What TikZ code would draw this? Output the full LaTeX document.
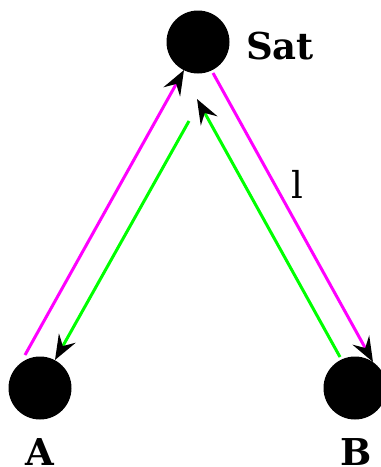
\documentclass[tikz,border=0pt]{standalone}
\usepackage{fontspec}
\setmainfont{DejaVu Serif}
\usetikzlibrary{arrows.meta}
\definecolor{mag}{RGB}{255,0,255}
\definecolor{grn}{RGB}{0,255,0}
\begin{document}
\begin{tikzpicture}[x=1pt,y=-1pt,
  dot/.style={circle,fill=black,inner sep=0pt,minimum size=63pt},
  lbl/.style={font=\bfseries\fontsize{37}{44}\selectfont,inner sep=0pt,anchor=base},
  link/.style={line width=3pt,-{Stealth[length=25pt,width=19pt,inset=9pt,black]}}]
\useasboundingbox (0,0) rectangle (381,467);
\clip (0,0) rectangle (381,467);
\node[dot] (sat) at (198,42) {};
\node[dot] (a) at (40,388) {};
\node[dot] (b) at (355,388) {};
\node[lbl] (satl) at (280,59) {Sat};
\node[lbl] (al) at (40,465) {A};
\node[lbl] (bl) at (356,465) {B};
\node[font=\fontsize{37}{44}\selectfont,inner sep=0pt,anchor=base] (l) at (297,198) {l};
\coordinate (m1s) at (25,355);
\coordinate (m1e) at (184,70);
\coordinate (m2s) at (213,73);
\coordinate (m2e) at (373,362);
\coordinate (g1s) at (189,121);
\coordinate (g1e) at (55,360);
\coordinate (g2s) at (340,357);
\coordinate (g2e) at (197,99);
\draw[link,mag] (m1s) -- (m1e);
\draw[link,mag] (m2s) -- (m2e);
\draw[link,grn] (g1s) -- (g1e);
\draw[link,grn] (g2s) -- (g2e);
\end{tikzpicture}
\end{document}
